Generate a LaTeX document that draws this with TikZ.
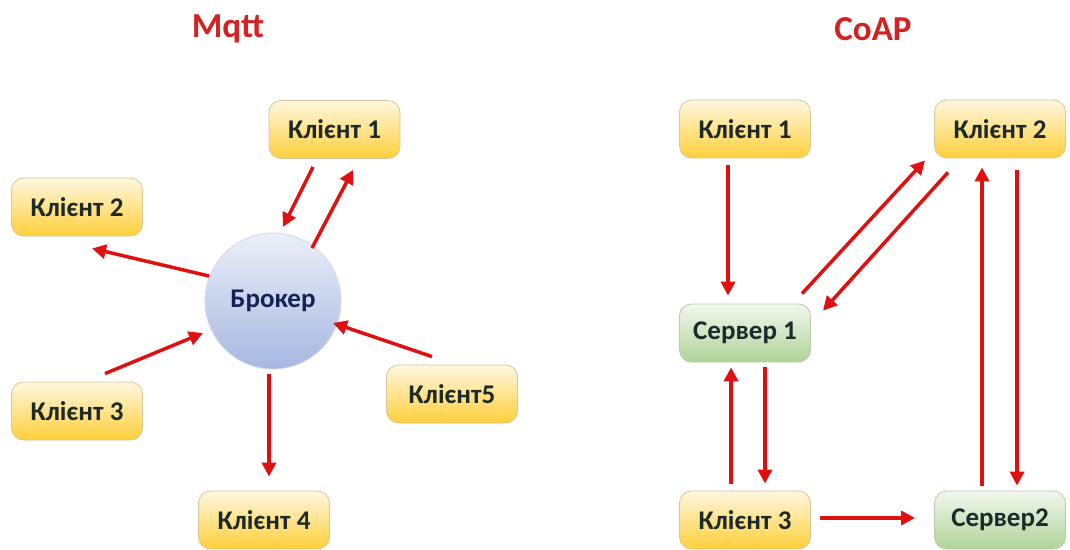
\documentclass[tikz,border=0pt]{standalone}
\usepackage{fontspec}
\setmainfont{Carlito}
\usetikzlibrary{arrows.meta,calc}
\definecolor{arrowred}{HTML}{E01010}
\definecolor{titlered}{HTML}{D42222}
\definecolor{yelTop}{HTML}{FFF7E0}
\definecolor{yelBot}{HTML}{FFCF3A}
\definecolor{yelEdge}{HTML}{D6C69A}
\definecolor{grnTop}{HTML}{F2F7EE}
\definecolor{grnBot}{HTML}{AFD398}
\definecolor{grnEdge}{HTML}{B9C9AE}
\definecolor{bluTop}{HTML}{EBEFF8}
\definecolor{bluBot}{HTML}{A6B7E0}
\definecolor{bluEdge}{HTML}{D2D8E8}
\definecolor{txtDark}{HTML}{1C2A2A}
\tikzset{
  box/.style={rectangle, rounded corners=12pt, minimum width=131pt, minimum height=58pt,
    font=\fontsize{27}{30}\selectfont\bfseries, text=txtDark, line width=0.8pt},
  client/.style={box, draw=yelEdge, top color=yelTop, bottom color=yelBot},
  server/.style={box, draw=grnEdge, top color=grnTop, bottom color=grnBot},
  broker/.style={circle, minimum size=136pt, draw=bluEdge, line width=0.8pt,
    top color=bluTop, bottom color=bluBot,
    font=\fontsize{27}{30}\selectfont\bfseries, text=txtDark!80!blue},
  title/.style={font=\fontsize{35}{40}\selectfont\bfseries, text=titlered},
  arr/.style={draw=arrowred, line width=3.5pt, -{Triangle[length=14pt,width=14pt]}}
}
\begin{document}
\begin{tikzpicture}[x=1pt,y=-1pt]
  \useasboundingbox (0,0) rectangle (1070,549);

  % titles
  \node[title] (tm) at (228,29) {Mqtt};
  \node[title] (tc) at (873,29) {CoAP};

  % publish/subscribe side
  \node[broker] (br) at (273,301) {Брокер};
  \node[client] (l1) at (334.5,129.5) {Клієнт 1};
  \node[client] (l2) at (77,207) {Клієнт 2};
  \node[client] (l3) at (77,411) {Клієнт 3};
  \node[client] (l5) at (452,394) {Клієнт5};
  \node[client] (l4) at (264,520) {Клієнт 4};

  \draw[arr] ($(l1.south)+(-21.5,8)$) -- ($(br.center)+(10,-74)$);
  \draw[arr] ($(br.center)+(39,-53)$) -- ($(l1.south)+(18.5,11)$);
  \draw[arr] ($(br.center)+(-64,-25)$) -- ($(l2.south)+(15,12)$);
  \draw[arr] ($(l3.north)+(28,-8)$) -- ($(br.center)+(-70,32)$);
  \draw[arr] ($(l5.north)+(-20,-8)$) -- ($(br.center)+(60,22)$);
  \draw[arr] ($(br.center)+(-4,73)$) -- ($(l4.north)+(5,-14)$);

  % request/response side
  \node[client] (r1) at (745,129) {Клієнт 1};
  \node[client] (r2) at (1000,129) {Клієнт 2};
  \node[server] (s1) at (745,333) {Сервер 1};
  \node[client] (r3) at (745,520) {Клієнт 3};
  \node[server] (s2) at (1000,520) {Сервер2};

  \draw[arr] ($(r1.south)+(-17,7)$) -- ($(s1.north)+(-17,-8)$);
  \draw[arr] ($(s1.north)+(57,-10)$) -- ($(r2.south)+(-75,2)$);
  \draw[arr] ($(r2.south)+(-52,14)$) -- ($(s1.north)+(78,7)$);
  \draw[arr] ($(s2.north)+(-18,-5)$) -- ($(r2.south)+(-18,9)$);
  \draw[arr] ($(r2.south)+(17,12)$) -- ($(s2.north)+(17,-5)$);
  \draw[arr] ($(r3.north)+(-14,-7)$) -- ($(s1.south)+(-14,5)$);
  \draw[arr] ($(s1.south)+(20,5)$) -- ($(r3.north)+(20,-7)$);
  \draw[arr] ($(r3.east)+(9,-2)$) -- ($(s2.west)+(-19,-2)$);
\end{tikzpicture}
\end{document}
